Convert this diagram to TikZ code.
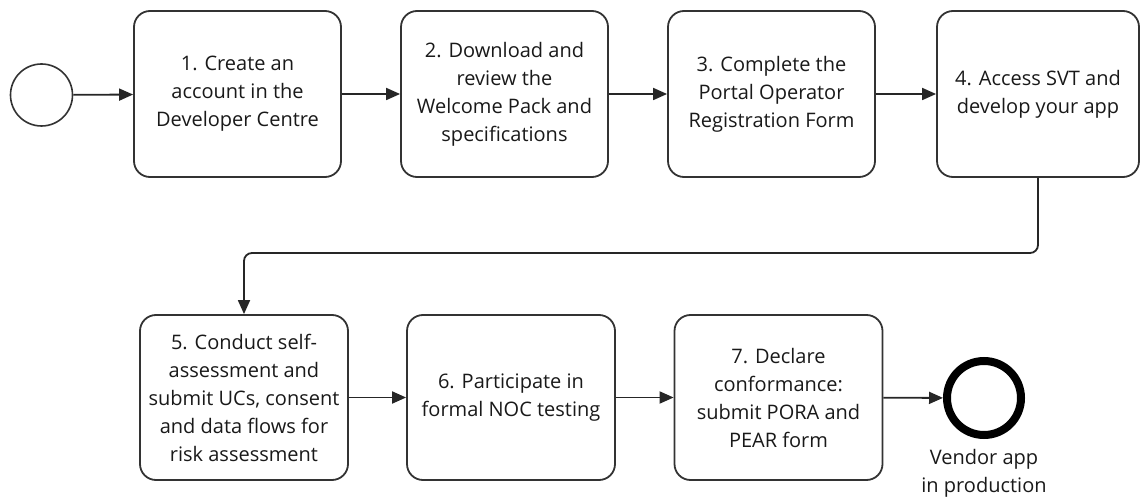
\documentclass[tikz,border=0pt]{standalone}
\usepackage{fontspec}
\setmainfont{Open Sans}
\usepackage{tikz}
\usetikzlibrary{arrows.meta,positioning}
\tikzstyle{task}=[draw=black!80, line width=1.8pt, rounded corners=16pt, minimum width=207pt, minimum height=166pt, align=center, inner sep=0pt, font=\fontsize{20}{28}\selectfont, text=black!90]
\tikzstyle{flow}=[draw=black!85, line width=1.8pt, -{Triangle[length=14pt,width=12pt]}]

\begin{document}
\begin{tikzpicture}[x=1pt,y=-1pt]
\useasboundingbox (0,0) rectangle (1141,497);
\node[circle, draw=black!80, line width=1.6pt, minimum size=62pt, inner sep=0pt] (st) at (41.5,95) {};
\node[task] (s1) at (237.5,94) {1. Create an\\account in the\\Developer Centre};
\node[task] (s2) at (504.5,94) {2. Download and\\review the\\Welcome Pack and\\specifications};
\node[task] (s3) at (771.5,94) {3. Complete the\\Portal Operator\\Registration Form};
\node[task, minimum width=202pt] (s4) at (1038,94) {4. Access SVT and\\develop your app};
\node[task, minimum width=208pt, minimum height=165pt] (s5) at (244,397.5) {5. Conduct self-\\assessment and\\submit UCs, consent\\and data flows for\\risk assessment};
\node[task, minimum width=208pt, minimum height=165pt] (s6) at (511,397.5) {6. Participate in\\formal NOC testing};
\node[task, minimum width=208pt, minimum height=165pt] (s7) at (778.5,397.5) {7. Declare\\conformance:\\submit PORA and\\PEAR form};
\node[circle, draw=black, line width=8pt, minimum size=74pt, inner sep=0pt] (fin) at (984,398) {};
\node[below=10pt of fin, align=center, inner sep=0pt, font=\fontsize{20}{28}\selectfont, text=black!90] (lab) {Vendor app\\in production};
\coordinate (turn) at (1038,253);
\draw[flow] (st) -- (s1);
\draw[flow] (s1) -- (s2);
\draw[flow] (s2) -- (s3);
\draw[flow] (s3) -- (s4);
\draw[flow, rounded corners=8pt] (s4.south) -- (turn) -| (s5.north);
\draw[flow] (s5) -- (s6);
\draw[flow] (s6) -- (s7);
\draw[flow] (s7) -- (fin);
\end{tikzpicture}
\end{document}
